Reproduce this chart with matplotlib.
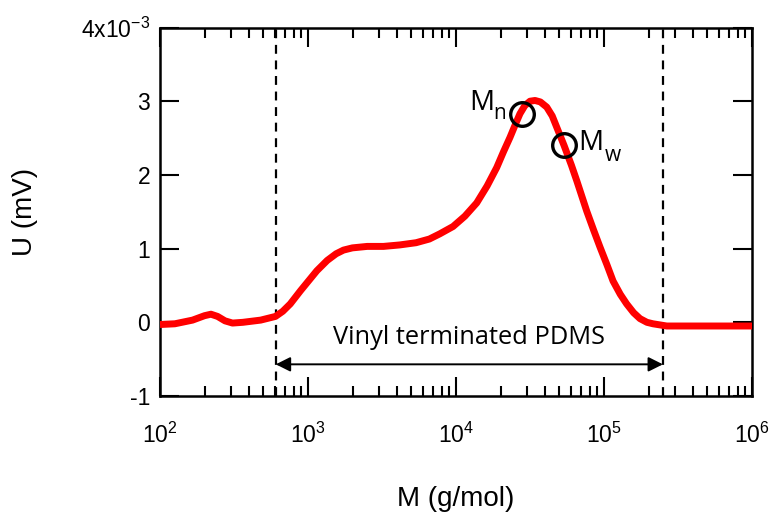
import matplotlib
matplotlib.use("Agg")
import matplotlib.pyplot as plt

# GPC trace, U in units of 1e-3 mV
mol_mass = [100, 126, 166, 200, 221, 245, 275, 309, 363, 479, 603, 676, 759, 891,
            1148, 1349, 1549, 1738, 1995, 2512, 3236, 4169, 5370, 6607, 7762, 9550,
            11480, 13800, 16220, 18840, 20890, 23170, 25120, 27040, 29170, 31620,
            34200, 37150, 41020, 44670, 47860, 53700, 60260, 65460, 76380, 85110,
            93970, 104700, 115100, 128800, 142200, 158500, 175000, 195000, 214300,
            265500, 446700, 1000000]
signal = [-0.03, -0.02, 0.03, 0.09, 0.11, 0.08, 0.02, -0.01, 0.00, 0.03, 0.08, 0.15,
          0.25, 0.43, 0.70, 0.84, 0.93, 0.98, 1.01, 1.03, 1.03, 1.05, 1.08, 1.13,
          1.20, 1.30, 1.44, 1.62, 1.85, 2.10, 2.31, 2.51, 2.68, 2.83, 2.94, 3.00,
          3.01, 2.99, 2.92, 2.80, 2.65, 2.40, 2.13, 1.92, 1.51, 1.25, 1.02, 0.78,
          0.56, 0.38, 0.25, 0.13, 0.05, 0.00, -0.02, -0.05, -0.05, -0.05]

mn_point = (27800, 2.83)
mw_point = (53700, 2.40)
range_bounds = [606, 250000]
arrow_y = -0.57

x_ticks = [1e2, 1e3, 1e4, 1e5, 1e6]
x_tick_labels = [r"$10^{2}$", r"$10^{3}$", r"$10^{4}$", r"$10^{5}$", r"$10^{6}$"]
y_ticks = [-1, 0, 1, 2, 3, 4]
y_tick_labels = ["-1", "0", "1", "2", "3", r"4x10$^{-3}$"]

plt.rcParams["font.family"] = ["Liberation Sans", "DejaVu Sans"]
plt.rcParams["mathtext.fontset"] = "custom"
plt.rcParams["mathtext.rm"] = "Liberation Sans"
plt.rcParams["mathtext.it"] = "Liberation Sans:italic"
plt.rcParams["mathtext.default"] = "regular"

fig = plt.figure(figsize=(7.71, 5.17), dpi=100)
ax = fig.add_axes([0.2075, 0.234, 0.7679, 0.7128])

ax.plot(mol_mass, signal, color="#ff0000", lw=5, solid_joinstyle="round",
        solid_capstyle="butt", zorder=3)

for xb in range_bounds:
    ax.axvline(xb, color="black", lw=1.6, ls=(0, (4, 3)), zorder=2)

ax.annotate("", xy=(range_bounds[0], arrow_y), xytext=(range_bounds[1], arrow_y),
            arrowprops=dict(arrowstyle="<|-|>", color="black", lw=1.4,
                            mutation_scale=22, shrinkA=0, shrinkB=0))
ax.text(12250, -0.21, "Vinyl terminated PDMS", family="Open Sans", fontsize=18.3,
        ha="center", va="center")

for pt in (mn_point, mw_point):
    ax.plot(*pt, marker="o", ms=17, mfc="none", mec="black", mew=2.4, zorder=4)

ax.annotate("M", xy=mn_point, xytext=(-20, 8), textcoords="offset points",
            family="Open Sans", fontsize=20, ha="right", va="center")
ax.annotate("n", xy=mn_point, xytext=(-11, 0), textcoords="offset points",
            family="Open Sans", fontsize=15, ha="right", va="center")
ax.annotate("M", xy=mw_point, xytext=(10, 2), textcoords="offset points",
            family="Open Sans", fontsize=20, ha="left", va="center")
ax.annotate("w", xy=mw_point, xytext=(29, -7), textcoords="offset points",
            family="Open Sans", fontsize=15, ha="left", va="center")

ax.set_xscale("log")
ax.set_xlim(1e2, 1e6)
ax.set_ylim(-1, 4)
ax.set_xticks(x_ticks)
ax.set_xticklabels(x_tick_labels)
ax.set_yticks(y_ticks)
ax.set_yticklabels(y_tick_labels)
ax.yaxis.set_minor_locator(plt.NullLocator())

ax.tick_params(which="both", direction="in", top=True, right=True, width=1.5,
               labelsize=16.5)
ax.tick_params(which="major", length=14)
ax.tick_params(which="minor", length=7)
ax.tick_params(axis="x", pad=19)
ax.tick_params(axis="y", pad=7)
for sp in ax.spines.values():
    sp.set_linewidth(1.8)

ax.set_xlabel("M (g/mol)", fontsize=20)
ax.set_ylabel("U (mV)", fontsize=20)
ax.xaxis.set_label_coords(0.5, -0.245)
ax.yaxis.set_label_coords(-0.206, 0.5)

fig.savefig("out.png", dpi=100)
